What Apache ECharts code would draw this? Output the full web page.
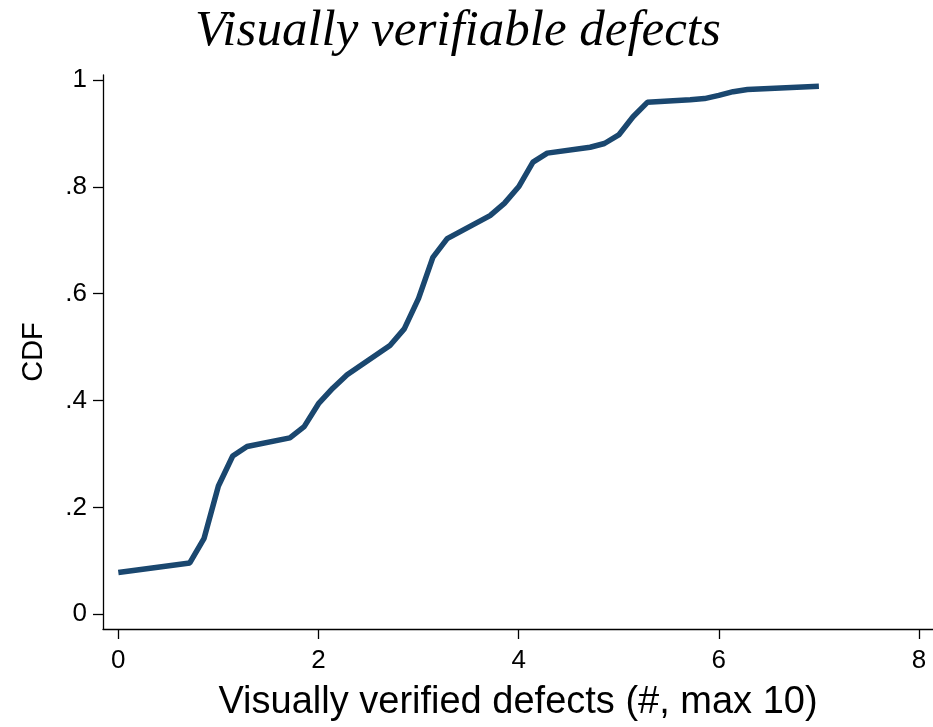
<!DOCTYPE html>
<html>
<head>
<meta charset="UTF-8">
<title>Visually verifiable defects</title>
<script src="https://cdn.jsdelivr.net/npm/echarts@6/dist/echarts.min.js"></script>
<style>
  html, body { margin: 0; padding: 0; background: #fff; }
  #main { width: 933px; height: 727px; }
</style>
</head>
<body>
<div id="main"></div>
<script>
// defects (x) and cumulative share (CDF)
var defects = [0, 0.714, 0.857, 1.0, 1.143, 1.286, 1.714, 1.857, 2.0, 2.143, 2.286,
               2.714, 2.857, 3.0, 3.143, 3.286, 3.714, 3.857, 4.0, 4.143, 4.286,
               4.714, 4.857, 5.0, 5.143, 5.286, 5.714, 5.857, 6.0, 6.143, 6.286, 7.0];
var cdf = [0.078, 0.096, 0.142, 0.240, 0.296, 0.314, 0.330, 0.351, 0.394, 0.423, 0.448,
           0.503, 0.534, 0.591, 0.668, 0.703, 0.746, 0.769, 0.800, 0.846, 0.863,
           0.874, 0.881, 0.897, 0.931, 0.958, 0.963, 0.965, 0.971, 0.978, 0.982, 0.988];
var xTicks = [0, 2, 4, 6, 8];
var yTicks = [0, 0.2, 0.4, 0.6, 0.8, 1];

var points = [];
for (var i = 0; i < defects.length; i++) {
    points.push([defects[i], cdf[i]]);
}

var myChart = echarts.init(document.getElementById('main'));

var option = {
    backgroundColor: '#ffffff',
    animation: false,
    title: {
        text: 'Visually verifiable defects',
        left: 190,
        top: 1,
        textStyle: {
            fontFamily: 'Liberation Serif',
            fontStyle: 'italic',
            fontWeight: 'normal',
            fontSize: 51,
            color: '#000'
        }
    },
    grid: { left: 103, right: 0, top: 75, bottom: 90 },
    xAxis: {
        type: 'value',
        min: -0.153,
        max: 8.14,
        name: 'Visually verified defects (#, max 10)',
        nameLocation: 'middle',
        nameGap: 55,
        nameTextStyle: { fontFamily: 'Liberation Sans', fontSize: 38, color: '#000' },
        splitLine: { show: false },
        axisLine: { onZero: false, lineStyle: { color: '#000', width: 1.3 } },
        axisTick: { customValues: xTicks, length: 10, lineStyle: { color: '#000', width: 1.3 } },
        axisLabel: {
            customValues: xTicks,
            fontFamily: 'Liberation Sans',
            fontSize: 26,
            color: '#000',
            margin: 19
        }
    },
    yAxis: {
        type: 'value',
        min: -0.0277,
        max: 1.0092,
        name: 'CDF',
        nameLocation: 'middle',
        nameGap: 55,
        nameTextStyle: { fontFamily: 'Liberation Sans', fontSize: 29, color: '#000' },
        splitLine: { show: false },
        axisLine: { show: true, onZero: false, lineStyle: { color: '#000', width: 1.3 } },
        axisTick: { show: true, customValues: yTicks, length: 10, lineStyle: { color: '#000', width: 1.3 } },
        axisLabel: {
            customValues: yTicks,
            fontFamily: 'Liberation Sans',
            fontSize: 26,
            color: '#000',
            margin: 16,
            formatter: function (v) {
                if (v === 0 || v === 1) return String(v);
                return String(Math.round(v * 10) / 10).replace('0.', '.');
            }
        }
    },
    series: [
        {
            type: 'line',
            data: points,
            showSymbol: false,
            lineStyle: { color: '#1a476f', width: 5.5 },
            itemStyle: { color: '#1a476f' }
        }
    ]
};

myChart.setOption(option);
</script>
</body>
</html>
